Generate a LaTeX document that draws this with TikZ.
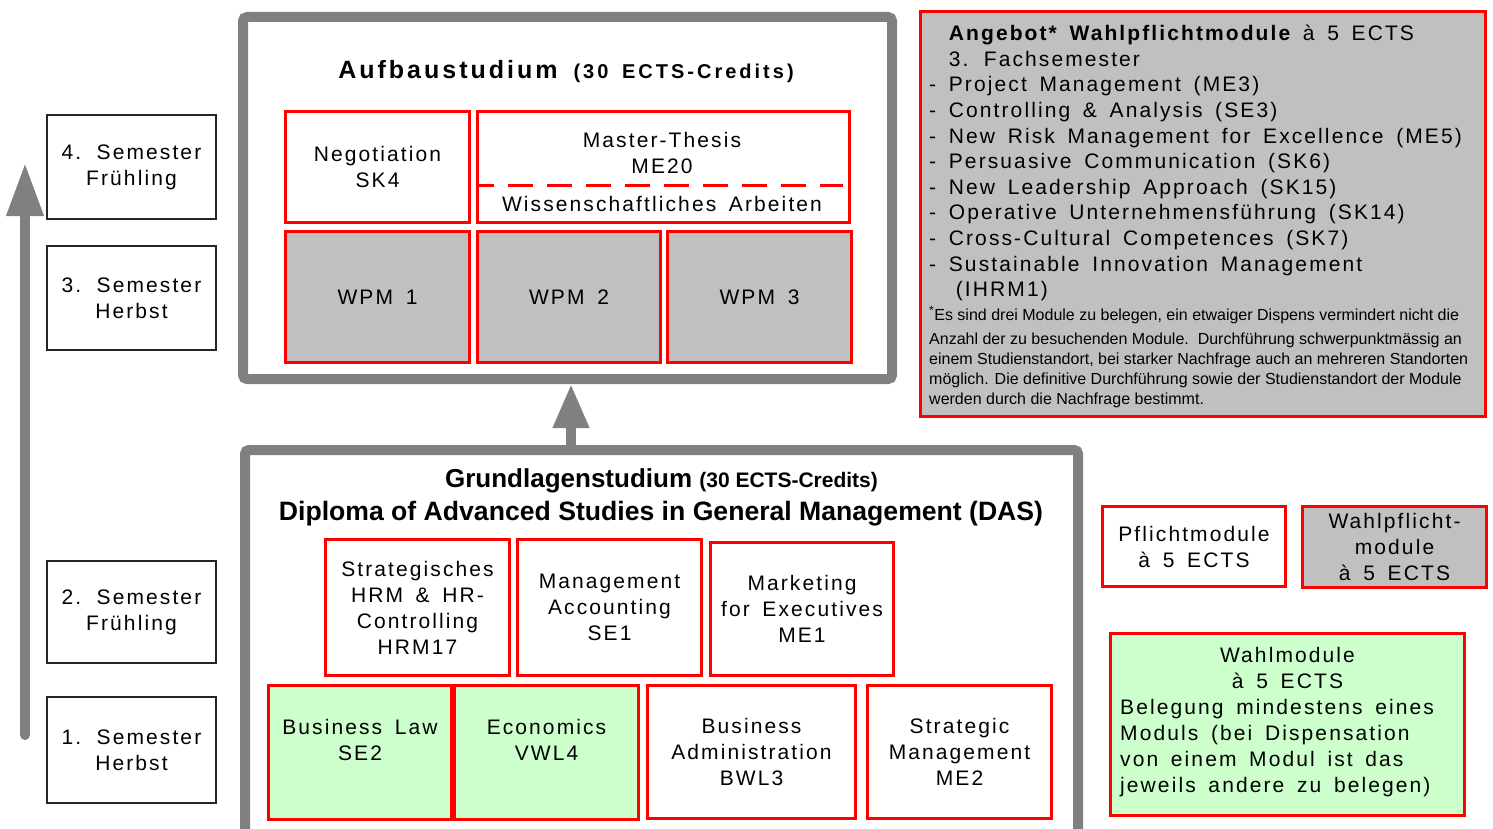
\documentclass[tikz,border=0pt]{standalone}
\usepackage{fontspec}
\setmainfont{Liberation Sans}
\newfontfamily\spf{Liberation Sans}[LetterSpace=10,WordSpace=1.6]
\newfontfamily\spa{Liberation Sans}[LetterSpace=12,WordSpace=1.6]
\newfontfamily\spg{Liberation Sans}[LetterSpace=15,WordSpace=1.6]
\usetikzlibrary{arrows.meta}
\definecolor{framegray}{RGB}{128,128,128}
\definecolor{wpmgray}{RGB}{192,192,192}
\definecolor{lgreen}{RGB}{204,255,204}
\definecolor{pured}{RGB}{255,0,0}
\tikzset{
  body/.style={font=\spf\fontsize{21}{26}\selectfont, align=center, inner sep=0pt, text=black},
  semester/.style={body, draw=black!85, line width=1.2pt, fill=white},
  modbox/.style={body, draw=pured, line width=3pt},
  wpmbox/.style={modbox, fill=wpmgray},
  wahlbox/.style={modbox, fill=lgreen},
  frame/.style={draw=framegray, line width=10pt, rounded corners=4pt, inner sep=0pt, fill=white},
  bigarrow/.style={draw=framegray, fill=framegray, line width=10pt},
  plain/.style={inner sep=0pt, text=black},
}
\begin{document}
\begin{tikzpicture}[x=1pt,y=-1pt]
\useasboundingbox (0,0) rectangle (1493,829);
\clip (0,0) rectangle (1493,829);
\fill[white] (0,0) rectangle (1493,829);

% time arrow
\coordinate (tb) at (25,735);
\coordinate (tt) at (25,163);
\draw[bigarrow, line cap=round, -{Triangle[width=35pt,length=53pt]}] (tb) -- (tt);

% semesters
\node[semester, minimum width=169pt, minimum height=104pt] (s4) at (131.5,167) {4. Semester\\Frühling};
\node[semester, minimum width=169pt, minimum height=104pt] (s3) at (131.5,298) {3. Semester\\Herbst};
\node[semester, minimum width=169pt, minimum height=102pt] (s2) at (131.5,612) {2. Semester\\Frühling};
\node[semester, minimum width=169pt, minimum height=106pt] (s1) at (131.5,750) {1. Semester\\Herbst};

% frames
\node[frame, minimum width=649pt, minimum height=362pt] (aufbau) at (567.5,198) {};
\node[frame, minimum width=833pt, minimum height=390pt] (grund) at (661.5,645) {};

% middle arrow
\coordinate (ax) at (571,0);
\draw[bigarrow, -{Triangle[width=34pt,length=44pt]}] (ax |- grund.north) -- (ax |- aufbau.south);

% Aufbau title
\node[plain, anchor=base] (atitle) at (566,79) {\spa\bfseries\fontsize{25}{30}\selectfont Aufbaustudium {\spg\fontsize{20}{24}\selectfont(30 ECTS-Credits)}};

% Aufbau modules
\node[modbox, minimum width=184pt, minimum height=111pt] (neg) at (377.5,167) {Negotiation\\SK4};
\node[modbox, minimum width=372pt, minimum height=111pt] (mt) at (663.5,167) {};
\draw[pured, line width=3pt, dash pattern=on 25pt off 14pt, dash phase=7pt] ([yshift=-19pt]mt.west) -- ([xshift=-8pt,yshift=-19pt]mt.east);
\node[body] (mtt) at (662,153) {Master-Thesis\\ME20};
\node[body] (wa) at (662,204) {Wissenschaftliches Arbeiten};
\node[wpmbox, minimum width=184pt, minimum height=131pt] (w1) at (377.5,297) {WPM 1};
\node[wpmbox, minimum width=183pt, minimum height=131pt] (w2) at (569,297) {WPM 2};
\node[wpmbox, minimum width=184pt, minimum height=131pt] (w3) at (759.5,297) {WPM 3};

% Grund title
\node[plain, anchor=base] (gt1) at (661.5,487) {\bfseries\fontsize{26}{30}\selectfont Grundlagenstudium {\fontsize{21}{24}\selectfont(30 ECTS-Credits)}};
\node[plain, anchor=base] (gt2) at (661,520) {\bfseries\fontsize{26.6}{30}\selectfont Diploma of Advanced Studies in General Management (DAS)};

% Grund modules
\node[modbox, minimum width=184pt, minimum height=136pt] (hrm) at (417.5,607.5) {Strategisches\\HRM \& HR-\\Controlling\\HRM17};
\node[modbox, minimum width=184pt, minimum height=136pt] (ma) at (609.5,607.5) {Management\\Accounting\\SE1};
\node[modbox, minimum width=183pt, minimum height=133pt] (mkt) at (802,609) {Marketing\\for Executives\\ME1};
\node[wahlbox, minimum width=183pt, minimum height=134pt] (bl) at (360,752.5) {Business Law\\SE2\\\mbox{}};
\node[wahlbox, minimum width=184pt, minimum height=134pt] (eco) at (546.5,752.5) {Economics\\VWL4\\\mbox{}};
\node[modbox, minimum width=208pt, minimum height=133pt] (ba) at (751.5,752) {Business\\Administration\\BWL3};
\node[modbox, minimum width=184pt, minimum height=133pt] (sm) at (959.5,752) {Strategic\\Management\\ME2};

% Angebot box
\node[wpmbox, minimum width=565pt, minimum height=405pt] (ang) at (1203,214) {};
\node[plain, anchor=north west, align=left, font=\spf\fontsize{21}{25.6}\selectfont] (angtxt) at (929,25) {%
\phantom{- }{\bfseries Angebot* Wahlpflichtmodule} à 5 ECTS\\
\phantom{- }3. Fachsemester\\
- Project Management (ME3)\\
- Controlling \& Analysis (SE3)\\
- New Risk Management for Excellence (ME5)\\
- Persuasive Communication (SK6)\\
- New Leadership Approach (SK15)\\
- Operative Unternehmensführung (SK14)\\
- Cross-Cultural Competences (SK7)\\
- Sustainable Innovation Management\\
\phantom{- }\hspace{7pt}(IHRM1)};
\node[plain, anchor=north west, align=left, font=\fontsize{16}{20}\selectfont] (fn) at (929,306) {%
\textsuperscript{\large *}Es sind drei Module zu belegen, ein etwaiger Dispens vermindert nicht die\\[4pt]
Anzahl der zu besuchenden Module.\ \ Durchführung schwerpunktmässig an\\
einem Studienstandort, bei starker Nachfrage auch an mehreren Standorten\\
möglich. Die definitive Durchführung sowie der Studienstandort der Module\\
werden durch die Nachfrage bestimmt.};

% legend
\node[modbox, minimum width=183pt, minimum height=80pt] (pf) at (1194,546.5) {Pflichtmodule\\à 5 ECTS};
\node[wpmbox, minimum width=184pt, minimum height=81pt] (wpf) at (1394.5,547) {Wahlpflicht-\\module\\à 5 ECTS};
\node[wahlbox, minimum width=354pt, minimum height=182pt] (wm) at (1287.5,724.5) {};
\node[body] (wmh) at (1287.5,668) {Wahlmodule\\à 5 ECTS};
\node[body, anchor=north west, align=left] (wmt) at (1120,699) {Belegung mindestens eines\\Moduls (bei Dispensation\\von einem Modul ist das\\jeweils andere zu belegen)};
\end{tikzpicture}
\end{document}
